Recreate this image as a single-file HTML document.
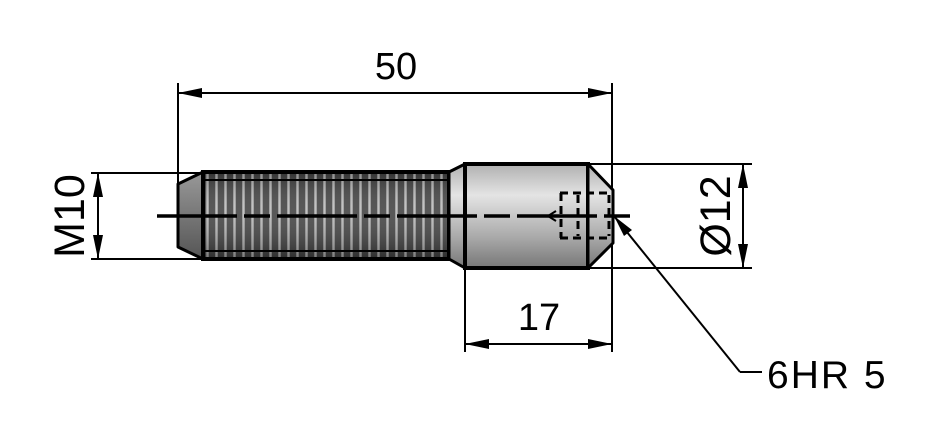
<!DOCTYPE html>
<html><head><style>
html,body{margin:0;padding:0;background:#fff;}
svg{display:block;}
text{font-family:"Liberation Sans",sans-serif;fill:#000;}
</style></head><body>
<svg width="933" height="438" viewBox="0 0 933 438" xmlns="http://www.w3.org/2000/svg">
<defs>
<pattern id="thr" x="203" y="0" width="9" height="10" patternUnits="userSpaceOnUse">
<rect width="9" height="10" fill="#444"/>
<rect x="3" width="3" height="10" fill="#999"/>
<rect x="4" width="1" height="10" fill="#bbb"/>
</pattern>
<linearGradient id="cyl" x1="0" y1="0" x2="0" y2="1">
<stop offset="0" stop-color="#b0b0b0"/>
<stop offset="0.3" stop-color="#e4e4e4"/>
<stop offset="0.7" stop-color="#aaa"/>
<stop offset="1" stop-color="#777"/>
</linearGradient>
<linearGradient id="tip" x1="0" y1="0" x2="0" y2="1">
<stop offset="0" stop-color="#999"/>
<stop offset="0.5" stop-color="#777"/>
<stop offset="1" stop-color="#555"/>
</linearGradient>
<linearGradient id="shade" x1="0" y1="0" x2="0" y2="1">
<stop offset="0" stop-color="#000" stop-opacity="0.25"/>
<stop offset="0.4" stop-color="#fff" stop-opacity="0.1"/>
<stop offset="1" stop-color="#000" stop-opacity="0.35"/>
</linearGradient>
</defs>
<polygon points="178,184 203,172 203,259 178,247" fill="url(#tip)" stroke="#000" stroke-width="3" stroke-linejoin="round"/>
<rect x="203" y="172" width="246" height="87" fill="url(#thr)"/>
<rect x="203" y="172" width="246" height="87" fill="url(#shade)"/>
<rect x="203" y="172" width="246" height="87" fill="none" stroke="#000" stroke-width="4"/>
<line x1="205" y1="180" x2="447" y2="180" stroke="#000" stroke-width="2"/>
<line x1="205" y1="251" x2="447" y2="251" stroke="#000" stroke-width="2"/>
<polygon points="449,172 465,164 465,268 449,259" fill="url(#cyl)" stroke="#000" stroke-width="3" stroke-linejoin="round"/>
<rect x="465" y="164" width="123" height="104" fill="url(#cyl)" stroke="#000" stroke-width="4"/>
<polygon points="588,164 613,190 613,243 588,268" fill="url(#cyl)" stroke="#000" stroke-width="3" stroke-linejoin="round"/>
<g stroke="#000" stroke-width="3" fill="none" stroke-dasharray="8,5">
<line x1="560" y1="193" x2="613" y2="193"/>
<line x1="560" y1="238" x2="613" y2="238"/>
<line x1="561" y1="193" x2="561" y2="238"/>
<line x1="578" y1="195" x2="578" y2="236"/>
<line x1="609" y1="195" x2="609" y2="236"/>
</g>
<polyline points="556,211 548,216 556,221" fill="none" stroke="#000" stroke-width="2"/>
<line x1="157" y1="216" x2="635" y2="216" stroke="#000" stroke-width="3.5" stroke-dasharray="80,7,26,7"/>
<g stroke="#000" stroke-width="2" fill="none">
<line x1="178" y1="83" x2="178" y2="185"/>
<line x1="612" y1="83" x2="612" y2="190"/>
<line x1="612" y1="243" x2="612" y2="352"/>
<line x1="178" y1="93" x2="612" y2="93"/>
<line x1="91" y1="173" x2="203" y2="173"/>
<line x1="91" y1="259" x2="203" y2="259"/>
<line x1="98" y1="173" x2="98" y2="259"/>
<line x1="588" y1="164" x2="752" y2="164"/>
<line x1="588" y1="268" x2="752" y2="268"/>
<line x1="743" y1="164" x2="743" y2="268"/>
<line x1="465" y1="268" x2="465" y2="352"/>
<line x1="465" y1="344" x2="612" y2="344"/>
<line x1="614" y1="216" x2="740" y2="372"/>
<line x1="740" y1="372" x2="762" y2="372"/>
</g>
<g fill="#000">
<polygon points="178,93 202,88 202,98"/>
<polygon points="612,93 588,88 588,98"/>
<polygon points="98,173 93,197 103,197"/>
<polygon points="98,259 93,235 103,235"/>
<polygon points="743,164 738,188 748,188"/>
<polygon points="743,268 738,244 748,244"/>
<polygon points="465,344 489,339 489,349"/>
<polygon points="612,344 588,339 588,349"/>
<polygon points="614,216 624,236 632,230"/>
</g>
<text x="396" y="79" font-size="38" text-anchor="middle">50</text>
<text x="539" y="330" font-size="38" text-anchor="middle">17</text>
<text x="767" y="388" font-size="39" letter-spacing="2">6HR 5</text>
<text transform="translate(84,216) rotate(-90)" font-size="43" text-anchor="middle">M10</text>
<text transform="translate(730,216) rotate(-90)" font-size="43" text-anchor="middle">Ø12</text>
</svg>
</body></html>
